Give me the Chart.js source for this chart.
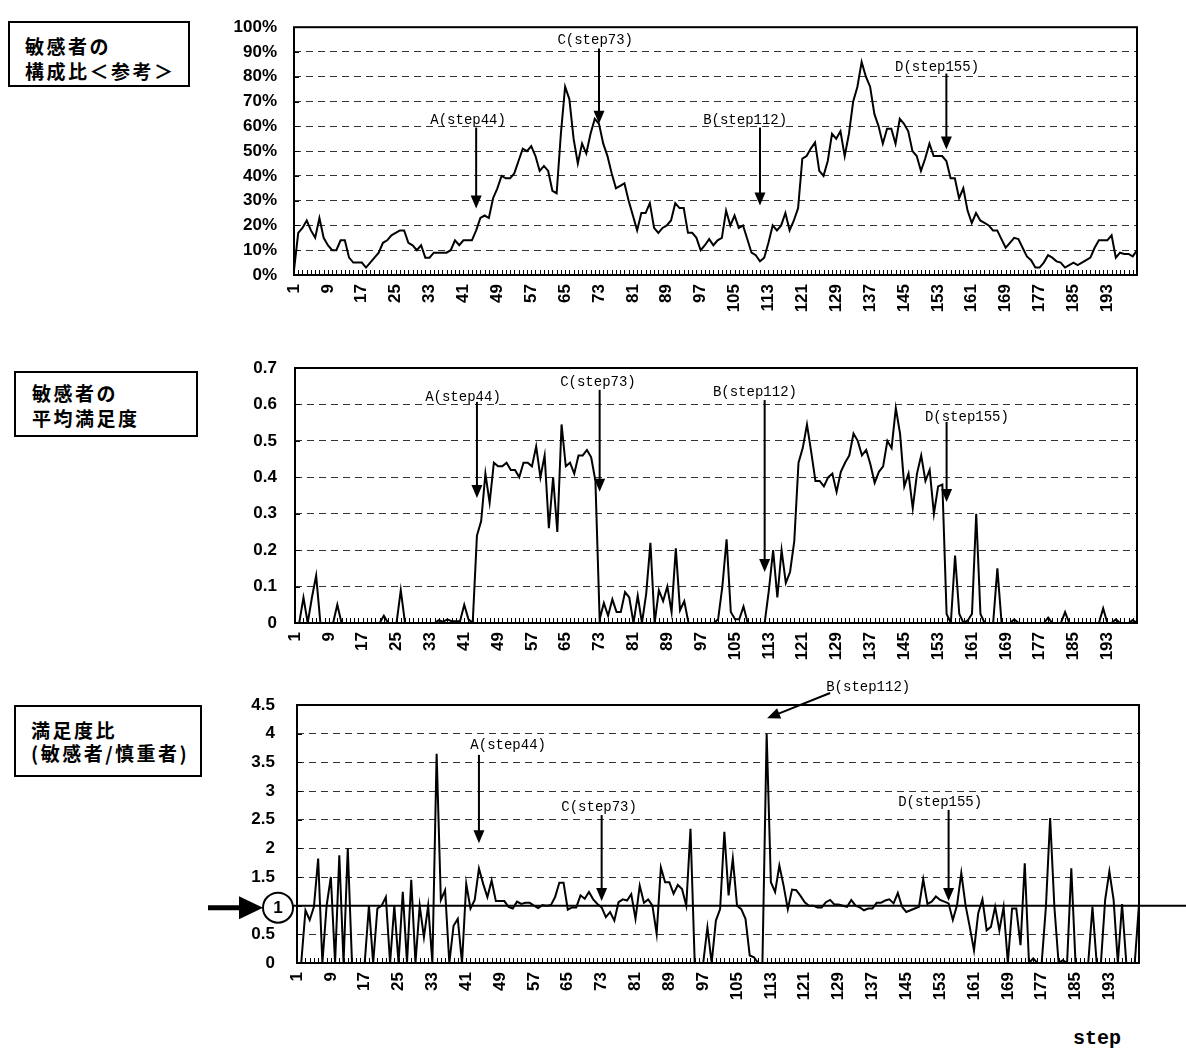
<!DOCTYPE html>
<html lang="ja">

<head>
    <meta charset="UTF-8">
    <title>敏感者の構成比・平均満足度・満足度比</title>
    <script src="https://cdn.jsdelivr.net/npm/chart.js@4.4.0/dist/chart.umd.min.js"></script>
    <style>
        body {
            margin: 0;
            background: #fff;
            width: 1186px;
            height: 1050px;
            overflow: hidden;
            position: relative;
        }

        canvas {
            position: absolute;
            left: 0;
            top: 0;
        }

        .box {
            position: absolute;
            border: 2px solid #000;
            box-sizing: border-box;
            font-family: "Noto Sans CJK JP", sans-serif;
            font-weight: bold;
            font-size: 19px;
            letter-spacing: 2.5px;
            line-height: 25px;
            white-space: nowrap;
        }

        #stepLabel {
            position: absolute;
            left: 1073px;
            top: 1027px;
            font: bold 20px "Liberation Mono", monospace;
        }
    </style>
</head>

<body>
    <div class="box" style="left:8px;top:21px;width:182px;height:66px;padding:10px 0 0 15px;">敏感者の<br>構成比＜参考＞</div>
    <div class="box" style="left:14px;top:371px;width:184px;height:66px;padding:7px 0 0 16px;">敏感者の<br>平均満足度</div>
    <div class="box" style="left:14px;top:705px;width:188px;height:72px;padding:11px 0 0 15px;line-height:23px;">満足度比<br>(敏感者/慎重者)</div>
    <div id="stepLabel">step</div>

    <canvas id="c1" width="1186" height="1050"></canvas>
    <canvas id="c2" width="1186" height="1050"></canvas>
    <canvas id="c3" width="1186" height="1050"></canvas>

    <script>
        // steps 1..200 (category axis), a label every 8th step
        const steps = Array.from({ length: 200 }, (_, i) => i + 1);
        const labelEvery = 8;

        // 敏感者の構成比 (%)
        const ratioPct = [
            2, 17, 19, 22, 18, 15, 23, 15, 12, 10,
            10, 14, 14, 7, 5, 5, 5, 3, 5, 7,
            9, 13, 14, 16, 17, 18, 18, 13, 12, 10,
            12, 7, 7, 9, 9, 9, 9, 10, 14, 12,
            14, 14, 14, 18, 23, 24, 23, 31, 35, 40,
            39, 39, 41, 46, 51, 50, 52, 48, 42, 44,
            42, 34, 33, 57, 76, 71, 55, 45, 53, 49,
            57, 63, 61, 53, 48, 41, 35, 36, 37, 30,
            24, 18, 25, 25, 29, 19, 17, 19, 20, 22,
            29, 27, 27, 17, 17, 15, 10, 12, 14.5, 12,
            14, 15, 26, 20, 24, 19, 20, 14.5, 9, 8,
            5.5, 7, 13, 20, 18, 20, 25, 18, 22, 27,
            47, 48, 51, 53.5, 42, 40, 46, 57, 55, 58,
            48, 57, 70, 76, 86, 80, 76, 65, 60, 53,
            59, 59, 53, 63, 61, 58, 50, 48, 42, 47,
            53, 48, 48, 48, 46, 39, 39, 31, 35, 26,
            21, 25, 22, 21, 20, 18, 18, 14.5, 11, 13,
            15, 14.5, 11, 7.5, 6, 3, 3, 5, 8, 7,
            5.5, 5, 3, 4, 5, 4, 5, 6, 7, 11,
            14, 14, 14, 16, 7, 9, 8.5, 8.5, 7.5, 10
        ];

        // 敏感者の平均満足度
        const avgSat = [
            0, 0, 0.07, 0, 0.07, 0.13, 0, 0, 0, 0,
            0.05, 0, 0, 0, 0, 0, 0, 0, 0, 0,
            0, 0.02, 0, 0, 0, 0.09, 0, 0, 0, 0,
            0, 0, 0, 0, 0.008, 0.003, 0.01, 0.005, 0.005, 0.005,
            0.05, 0.01, 0, 0.24, 0.28, 0.41, 0.33, 0.44, 0.43, 0.43,
            0.44, 0.42, 0.42, 0.40, 0.44, 0.44, 0.43, 0.485, 0.40, 0.46,
            0.26, 0.40, 0.25, 0.545, 0.43, 0.44, 0.41, 0.46, 0.46, 0.475,
            0.455, 0.39, 0.01, 0.055, 0.02, 0.065, 0.03, 0.03, 0.085, 0.07,
            0, 0.075, 0, 0.08, 0.22, 0, 0.09, 0.06, 0.10, 0.03,
            0.205, 0.035, 0.06, 0, 0, 0, 0, 0, 0, 0,
            0.01, 0.1, 0.23, 0.03, 0.01, 0.01, 0.045, 0, 0, 0,
            0, 0, 0.09, 0.2, 0.07, 0.2, 0.11, 0.14, 0.225, 0.44,
            0.48, 0.545, 0.47, 0.39, 0.39, 0.375, 0.40, 0.41, 0.36, 0.415,
            0.44, 0.46, 0.52, 0.50, 0.46, 0.475, 0.435, 0.385, 0.415, 0.43,
            0.50, 0.48, 0.59, 0.52, 0.375, 0.41, 0.315, 0.41, 0.46, 0.39,
            0.42, 0.30, 0.375, 0.38, 0.025, 0, 0.185, 0.025, 0, 0.007,
            0.025, 0.30, 0.025, 0, 0, 0, 0.15, 0, 0, 0,
            0.01, 0, 0, 0, 0, 0, 0, 0, 0.015, 0,
            0, 0, 0.03, 0, 0, 0, 0, 0, 0, 0,
            0, 0.04, 0, 0, 0.01, 0, 0, 0, 0.008, 0
        ];

        // 満足度比 (敏感者/慎重者)
        const satRatio = [
            0, 0, 0.92, 0.75, 0.98, 1.82, 0, 1.0, 1.5, 0,
            1.88, 0, 2.0, 0, 0, 0, 0, 1.0, 0, 0.95,
            1.0, 1.15, 0, 1.0, 0, 1.24, 0, 1.45, 0, 1.0,
            0.45, 1.0, 0, 3.65, 1.1, 1.27, 0, 0.65, 0.77, 0,
            1.38, 0.95, 1.1, 1.65, 1.38, 1.15, 1.44, 1.08, 1.08, 1.08,
            0.98, 0.95, 1.07, 1.03, 1.05, 1.05, 1.0, 0.96, 1.01, 1.0,
            1.01, 1.15, 1.4, 1.4, 0.93, 0.97, 0.97, 1.18, 1.12, 1.24,
            1.11, 1.03, 0.97, 0.8, 0.89, 0.74, 1.06, 1.11, 1.09, 1.2,
            0.77, 1.35, 1.05, 1.11, 1.0, 0.51, 1.67, 1.41, 1.41, 1.21,
            1.36, 1.29, 1.0, 2.34, 0, 0, 0, 0.62, 0, 0.74,
            0.94, 2.29, 1.18, 1.82, 1.0, 0.94, 0.77, 0.13, 0.1, 0,
            0, 4.0, 1.41, 1.24, 1.7, 1.35, 0.94, 1.28, 1.27, 1.17,
            1.06, 1.0, 1.0, 0.97, 0.97, 1.06, 1.1, 1.02, 1.02, 1.0,
            0.98, 1.1, 1.0, 0.97, 0.92, 0.95, 0.95, 1.05, 1.05, 1.09,
            1.11, 1.04, 1.22, 0.98, 0.89, 0.92, 0.95, 0.98, 1.46, 1.03,
            1.07, 1.16, 1.1, 1.07, 1.04, 0.75, 1.01, 1.57, 1.01, 0.63,
            0.22, 0.87, 1.11, 0.57, 0.63, 0.98, 0.57, 0.98, 0, 0.95,
            0.95, 0.31, 1.74, 0, 0.08, 0, 0, 0.98, 2.53, 0.98,
            0, 0.05, 0, 1.65, 0, 0, 0, 0, 0.98, 0,
            0, 1.1, 1.6, 1.1, 0, 1.03, 0, 0, 0, 1.03
        ];

        // marker texts and where they point ([step, value])
        const notesTop = [
            { text: 'A(step44)', textAt: [42.1, 62.3], from: [44, 59.5], to: [44, 26.8] },
            { text: 'C(step73)', textAt: [72.1, 94.6], from: [73, 91.4], to: [73, 61] },
            { text: 'B(step112)', textAt: [107.5, 62.3], from: [111, 59.5], to: [111, 28] },
            { text: 'D(step155)', textAt: [152.8, 83.7], from: [155, 81.3], to: [155, 50.6] }
        ];
        const notesMid = [
            { text: 'A(step44)', textAt: [40.7, 0.62], from: [44, 0.607], to: [44, 0.343] },
            { text: 'C(step73)', textAt: [72.6, 0.662], from: [73, 0.64], to: [73, 0.36] },
            { text: 'B(step112)', textAt: [109.7, 0.634], from: [112, 0.612], to: [112, 0.14] },
            { text: 'D(step155)', textAt: [159.8, 0.566], from: [155, 0.552], to: [155, 0.332] }
        ];
        const notesBot = [
            { text: 'A(step44)', textAt: [50.9, 3.8], from: [44, 3.63], to: [44, 2.09] },
            { text: 'C(step73)', textAt: [72.4, 2.72], from: [73, 2.58], to: [73, 1.08] },
            { text: 'B(step112)', textAt: [136, 4.81], from: [127, 4.71], to: [112.1, 4.27] },
            { text: 'D(step155)', textAt: [153, 2.81], from: [155, 2.67], to: [155, 1.08] }
        ];

        Chart.defaults.font.family = '"Liberation Sans", Arial, sans-serif';
        Chart.defaults.color = '#000';

        function arrow(ctx, x1, y1, x2, y2) {
            const ang = Math.atan2(y2 - y1, x2 - x1);
            const len = 13, half = 5.5;
            ctx.lineWidth = 2;
            ctx.beginPath();
            ctx.moveTo(x1, y1);
            ctx.lineTo(x2 - Math.cos(ang) * len * 0.8, y2 - Math.sin(ang) * len * 0.8);
            ctx.stroke();
            ctx.beginPath();
            ctx.moveTo(x2, y2);
            ctx.lineTo(x2 - Math.cos(ang) * len - Math.sin(ang) * half, y2 - Math.sin(ang) * len + Math.cos(ang) * half);
            ctx.lineTo(x2 - Math.cos(ang) * len + Math.sin(ang) * half, y2 - Math.sin(ang) * len - Math.cos(ang) * half);
            ctx.closePath();
            ctx.fill();
        }

        // frame around the plot and the small inner tick marks
        const framePlugin = {
            id: 'frame',
            afterDatasetsDraw(chart) {
                const { ctx, chartArea: a, scales: { x, y } } = chart;
                ctx.save();
                ctx.strokeStyle = '#000';
                ctx.lineWidth = 1;
                ctx.beginPath();
                for (let i = 0; i < steps.length; i++) {
                    const px = Math.round(x.getPixelForValue(i)) + 0.5;
                    ctx.moveTo(px, a.bottom);
                    ctx.lineTo(px, a.bottom - 5);
                }
                y.ticks.forEach(t => {
                    const py = Math.round(y.getPixelForValue(t.value)) + 0.5;
                    ctx.moveTo(a.left, py);
                    ctx.lineTo(a.left + 5, py);
                });
                ctx.stroke();
                ctx.lineWidth = 2;
                ctx.strokeRect(a.left, a.top, a.right - a.left, a.bottom - a.top);
                ctx.restore();
            }
        };

        const notePlugin = {
            id: 'notes',
            afterDatasetsDraw(chart, args, opts) {
                const { ctx, scales: { x, y } } = chart;
                const px = s => x.getPixelForValue(s - 1);
                ctx.save();
                ctx.fillStyle = '#000';
                ctx.strokeStyle = '#000';
                ctx.font = '14px "Liberation Mono", monospace';
                ctx.textAlign = 'center';
                ctx.textBaseline = 'middle';
                (opts.items || []).forEach(n => {
                    ctx.fillText(n.text, px(n.textAt[0]), y.getPixelForValue(n.textAt[1]));
                    arrow(ctx, px(n.from[0]), y.getPixelForValue(n.from[1]), px(n.to[0]), y.getPixelForValue(n.to[1]));
                });
                ctx.restore();
            }
        };

        // ratio == 1 reference line with the circled "1"
        const unityPlugin = {
            id: 'unity',
            afterDatasetsDraw(chart) {
                const { ctx, chartArea: a, scales: { y } } = chart;
                const py = y.getPixelForValue(1);
                const cx = a.left - 19;
                ctx.save();
                ctx.strokeStyle = '#000';
                ctx.fillStyle = '#000';
                ctx.lineWidth = 2;
                ctx.beginPath();
                ctx.moveTo(cx + 15, py);
                ctx.lineTo(chart.width, py);
                ctx.stroke();
                ctx.beginPath();
                ctx.arc(cx, py + 2, 15, 0, Math.PI * 2);
                ctx.stroke();
                ctx.font = 'bold 17px "Liberation Sans", Arial, sans-serif';
                ctx.textAlign = 'center';
                ctx.textBaseline = 'middle';
                ctx.fillText('1', cx, py + 3);
                ctx.lineWidth = 5;
                ctx.beginPath();
                ctx.moveTo(208, py + 2);
                ctx.lineTo(245, py + 2);
                ctx.stroke();
                ctx.beginPath();
                ctx.moveTo(263, py + 2);
                ctx.lineTo(239, py - 9.5);
                ctx.lineTo(239, py + 13.5);
                ctx.closePath();
                ctx.fill();
                ctx.restore();
            }
        };

        function makeChart(id, values, area, yOpts, notes, extra) {
            const W = 1186, H = 1050, xAxisH = 60;
            return new Chart(document.getElementById(id), {
                type: 'line',
                data: {
                    labels: steps,
                    datasets: [{
                        data: values,
                        borderColor: '#000',
                        borderWidth: 2,
                        pointRadius: 0,
                        tension: 0,
                        fill: false
                    }]
                },
                options: {
                    responsive: false,
                    animation: false,
                    events: [],
                    layout: {
                        padding: { left: 0, top: area.top, right: W - area.right, bottom: H - area.bottom - xAxisH }
                    },
                    plugins: {
                        legend: { display: false },
                        tooltip: { enabled: false },
                        notes: { items: notes }
                    },
                    scales: {
                        x: {
                            type: 'category',
                            offset: false,
                            grid: { display: false, drawTicks: false },
                            border: { display: false },
                            ticks: {
                                autoSkip: false,
                                minRotation: 90,
                                maxRotation: 90,
                                padding: 9,
                                font: { size: 17, weight: 'bold' },
                                callback: (v, i) => i % labelEvery === 0 ? String(steps[i]) : ''
                            },
                            afterFit: s => { s.height = xAxisH; }
                        },
                        y: {
                            min: yOpts.min,
                            max: yOpts.max,
                            grid: { color: '#333', lineWidth: 1, drawTicks: false },
                            border: { display: false, dash: [7, 5] },
                            ticks: {
                                stepSize: yOpts.step,
                                padding: yOpts.pad,
                                font: { size: 17, weight: 'bold' },
                                callback: yOpts.fmt
                            },
                            afterFit: s => { s.width = area.left; }
                        }
                    }
                },
                plugins: [framePlugin, notePlugin].concat(extra || [])
            });
        }

        makeChart('c1', ratioPct,
            { left: 294, right: 1137, top: 18, bottom: 275 },
            { min: 0, max: 100, step: 10, pad: 17, fmt: v => v + '%' },
            notesTop);

        makeChart('c2', avgSat,
            { left: 295, right: 1137, top: 368, bottom: 623 },
            { min: 0, max: 0.7, step: 0.1, pad: 18, fmt: v => v === 0 ? '0' : v.toFixed(1) },
            notesMid);

        makeChart('c3', satRatio,
            { left: 297, right: 1139, top: 705, bottom: 963 },
            { min: 0, max: 4.5, step: 0.5, pad: 22, fmt: v => v === 1 ? '' : String(v) },
            notesBot, [unityPlugin]);
    </script>
</body>

</html>
